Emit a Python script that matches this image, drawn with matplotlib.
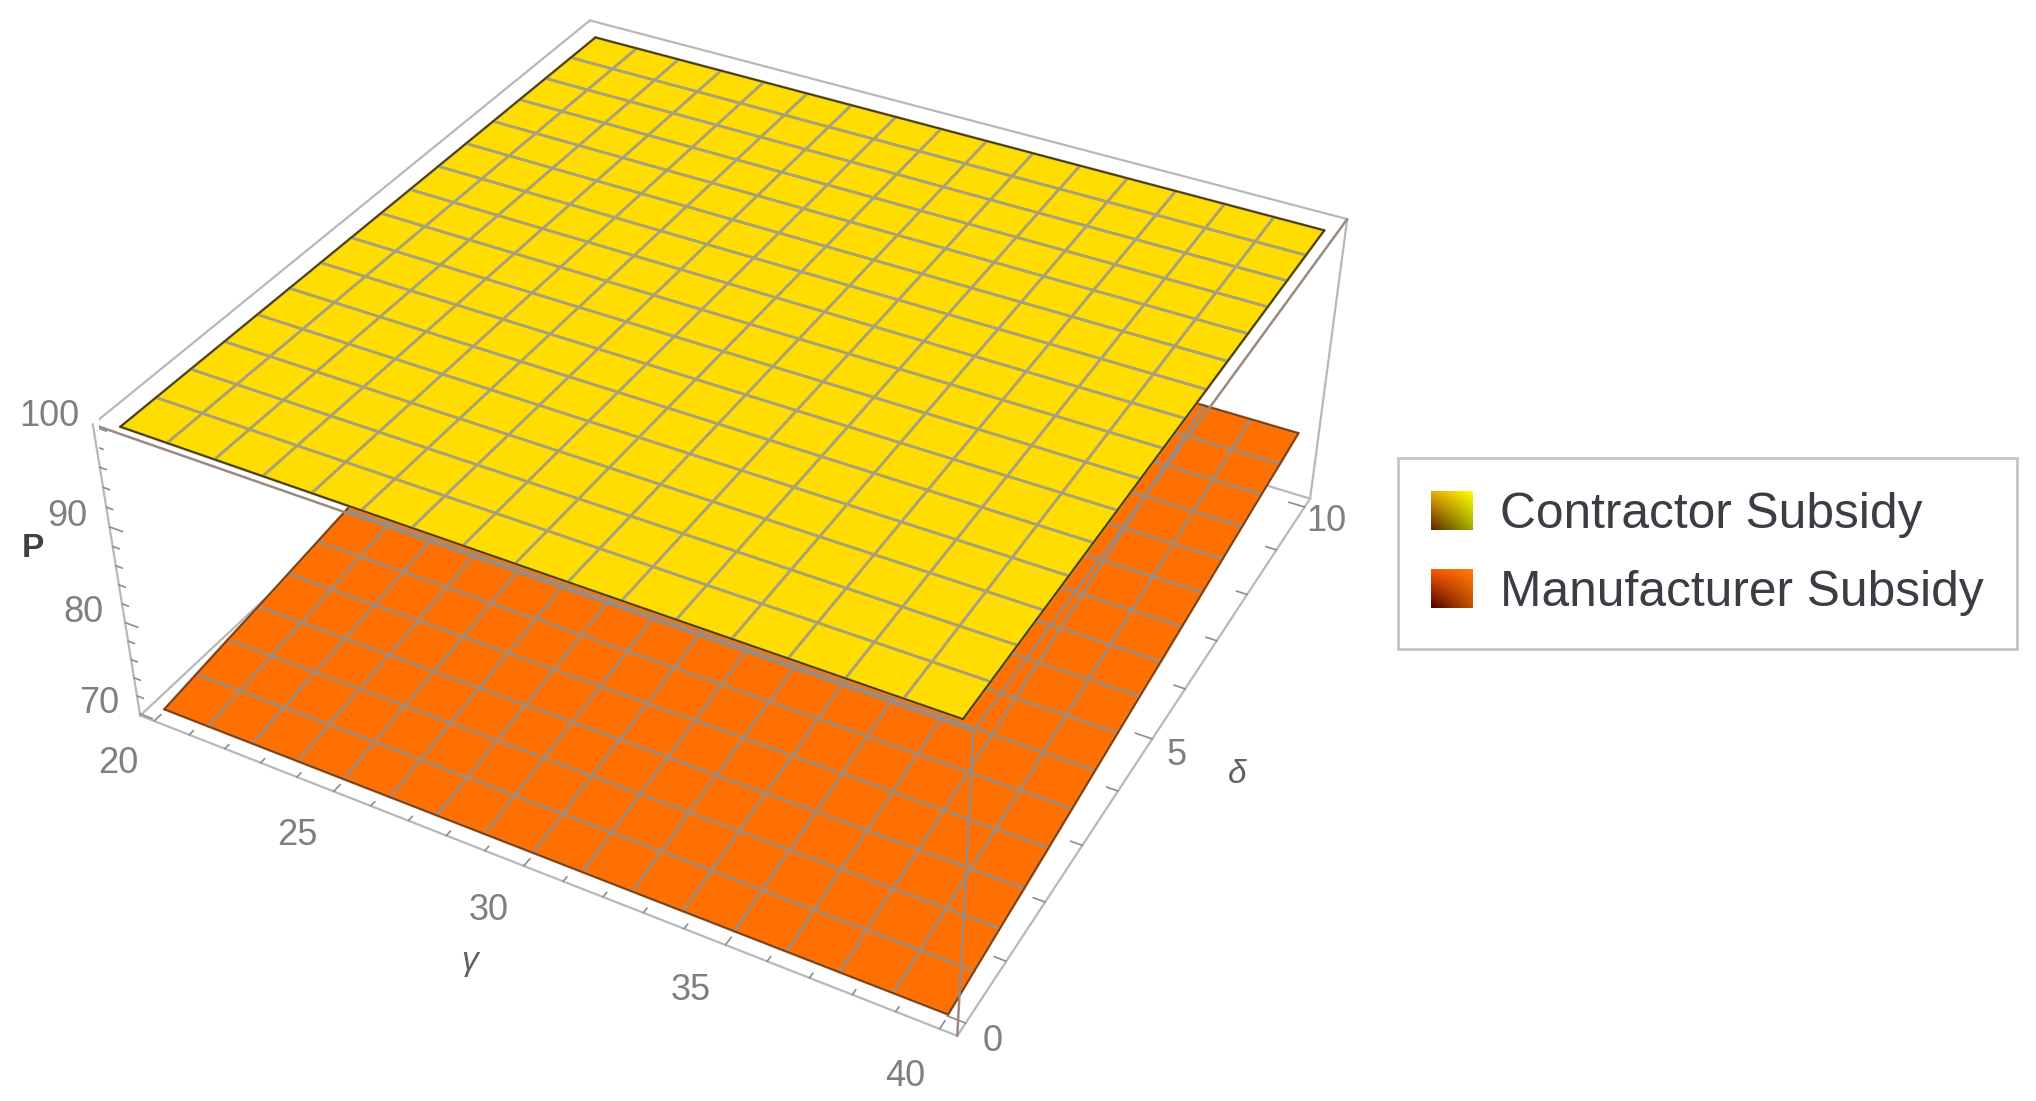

import numpy as np, matplotlib
matplotlib.use('Agg')
import matplotlib.pyplot as plt
from matplotlib.patches import Patch

plt.rcParams['font.family'] = ['Liberation Sans', 'DejaVu Sans']

# ---- data
gamma = [20, 21.25, 22.5, 23.75, 25, 26.25, 27.5, 28.75, 30, 31.25, 32.5, 33.75, 35, 36.25, 37.5, 38.75, 40]
delta = [0, 0.625, 1.25, 1.875, 2.5, 3.125, 3.75, 4.375, 5, 5.625, 6.25, 6.875, 7.5, 8.125, 8.75, 9.375, 10]
contractor_p = [99.55, 99.54, 99.53, 99.52, 99.51, 99.50, 99.49, 99.48, 99.47, 99.46, 99.45, 99.45, 99.44, 99.44, 99.43, 99.43, 99.42]
manufacturer_p = [70.0, 70.5, 71.0, 71.4, 71.9, 72.4, 72.9, 73.4, 73.9, 74.3, 74.8, 75.3, 75.8, 76.3, 76.8, 77.2, 77.7]
gamma_ticks = [20, 25, 30, 35, 40]
delta_ticks = [0, 5, 10]
p_ticks = [70, 80, 90, 100]
gamma_minor = [21, 22, 23, 24, 26, 27, 28, 29, 31, 32, 33, 34, 36, 37, 38, 39]
delta_minor = [1, 2, 3, 4, 6, 7, 8, 9]
p_minor = [72, 74, 76, 78, 82, 84, 86, 88, 92, 94, 96, 98]
series_names = ['Contractor Subsidy', 'Manufacturer Subsidy']

W, H = 2036, 1101
XL, YL, ZL = (19.6, 40.4), (-0.2, 10.2), (69.8, 100.2)
YELLOW, ORANGE = '#FFDD00', '#FF7000'
GREY = '#B8B8B8'
TICKC = '#8C8C8C'

fig = plt.figure(figsize=(W/100, H/100), dpi=100, facecolor='white')
left, bottom, size = 99.12, -14.96, 1268.62
ax = fig.add_axes([left/W, bottom/H, size/W, size/H], projection='3d', computed_zorder=False)
ax.patch.set_alpha(0)
ax.set_xlim(*XL, view_margin=0)
ax.set_ylim(*YL, view_margin=0)
ax.set_zlim(*ZL, view_margin=0)
ax.view_init(elev=36.4148, azim=-61.2614, roll=0.2484)
ax.set_proj_type('persp', focal_length=0.44247)
ax.set_box_aspect((1, 0.99169, 0.39658))
ax.grid(False)

for axis in (ax.xaxis, ax.yaxis, ax.zaxis):
    axis.set_pane_color((1, 1, 1, 0))
    axis.pane.set_edgecolor((1, 1, 1, 0))
    axis.line.set_color(GREY)
    axis.line.set_linewidth(1.6)
    axis.set_rotate_label(False)
ax.zaxis.set_ticks_position('lower')
ax.zaxis.set_label_position('lower')

ax.set_xticks(gamma_ticks)
ax.set_yticks(delta_ticks)
ax.set_zticks(p_ticks)
ax.tick_params(axis='both', color=(0, 0, 0, 0), labelcolor='#7F7F7F', labelsize=26)
ax.tick_params(axis='x', pad=7)
ax.tick_params(axis='y', pad=6)
ax.tick_params(axis='z', pad=7)
for t in ax.get_xticklabels():
    t.set_ha('right')
for t in ax.get_yticklabels():
    t.set_va('center')
for t in ax.get_zticklabels():
    t.set_va('bottom')
ax.set_xlabel('γ', fontsize=24, style='italic', color='#606060', labelpad=31, rotation=0)
ax.set_ylabel('δ\n', fontsize=24, style='italic', color='#606060', labelpad=28, rotation=0, linespacing=1.6)
ax.set_zlabel('P\n', fontsize=24, fontweight='bold', color='#404040', labelpad=9, rotation=0, linespacing=3.2)

def seg(a, b, z, c=GREY, lw=1.6):
    ax.plot([a[0], b[0]], [a[1], b[1]], [a[2], b[2]], color=c, lw=lw, zorder=z, solid_capstyle='round')

x0, x1, y0, y1, z0, z1 = *XL, *YL, *ZL
# back edges, behind everything
for a, b in [((x0, y0, z1), (x0, y1, z1)), ((x0, y1, z1), (x1, y1, z1)), ((x1, y1, z1), (x1, y1, z0)),
             ((x0, y0, z0), (x0, y1, z0)), ((x1, y1, z0), (x0, y1, z0))]:
    seg(a, b, 1)
# tick marks
for v, L in [(t, .13) for t in gamma_ticks] + [(t, .08) for t in gamma_minor]:
    seg((v, y0, z0), (v, y0 + L, z0), 1, TICKC, 1.2)
for v, L in [(t, .42) for t in delta_ticks] + [(t, .28) for t in delta_minor]:
    seg((x1, v, z0), (x1 - L, v, z0), 1, TICKC, 1.2)
for v, L in [(t, .36) for t in p_ticks] + [(t, .18) for t in p_minor]:
    seg((x0, y0, v), (x0 + L, y0, v), 1, TICKC, 1.2)

G, D = np.meshgrid(np.array(gamma), np.array(delta))
def surface(values, color, edge, border, z):
    Z = np.repeat(np.array(values)[:, None], len(gamma), axis=1)
    ax.plot_surface(G, D, Z, rstride=1, cstride=1, color=color, shade=False,
                    edgecolor=edge, linewidth=2.0, zorder=z, antialiased=True)
    for (a, b) in [((0, 0), (0, -1)), ((0, -1), (-1, -1)), ((-1, -1), (-1, 0)), ((-1, 0), (0, 0))]:
        ax.plot([G[a], G[b]], [D[a], D[b]], [Z[a], Z[b]], color=border, lw=1.3, zorder=z + .1)

surface(manufacturer_p, ORANGE, '#A58C78', '#8A3A00', 2)
# front edges of the box, over the lower sheet
for a, b in [((x0, y0, z1), (x1, y0, z1)), ((x1, y0, z1), (x1, y1, z1)), ((x1, y0, z1), (x1, y0, z0))]:
    seg(a, b, 3, '#9A8A80', 1.8)
surface(contractor_p, YELLOW, '#AAA078', '#4A3C00', 4)

# legend
handles = [Patch(facecolor=YELLOW), Patch(facecolor=ORANGE)]
leg = fig.legend(handles, series_names, loc='upper left', bbox_to_anchor=(1398/W, 1 - 458/H),
                 borderaxespad=0, fontsize=35.7, labelcolor='#3C3C44', frameon=True, fancybox=False,
                 edgecolor='#C4C4C4', framealpha=1, borderpad=0.67, labelspacing=0.63,
                 handlelength=0.84, handleheight=0.84, handletextpad=0.55)
leg.get_frame().set_linewidth(2.0)
fig.canvas.draw()
swatch_corners = [
    ((240, 170, 0), (255, 255, 0), (90, 40, 0), (160, 170, 0)),
    ((255, 90, 0), (255, 125, 0), (80, 0, 0), (190, 80, 0)),
]
for h, (tl, tr, bl, br) in zip(leg.legend_handles, swatch_corners):
    bb = h.get_window_extent().transformed(fig.transFigure.inverted())
    a2 = fig.add_axes([bb.x0, bb.y0, bb.width, bb.height], zorder=10)
    u, v = np.meshgrid(np.linspace(0, 1, 32), np.linspace(0, 1, 32))
    img = np.zeros((32, 32, 3))
    for i in range(3):
        img[..., i] = ((1-u)*(1-v)*tl[i] + u*(1-v)*tr[i] + (1-u)*v*bl[i] + u*v*br[i]) / 255
    a2.imshow(img, interpolation='bilinear', aspect='auto')
    a2.axis('off')

fig.savefig('out.png', dpi=100, facecolor='white')
